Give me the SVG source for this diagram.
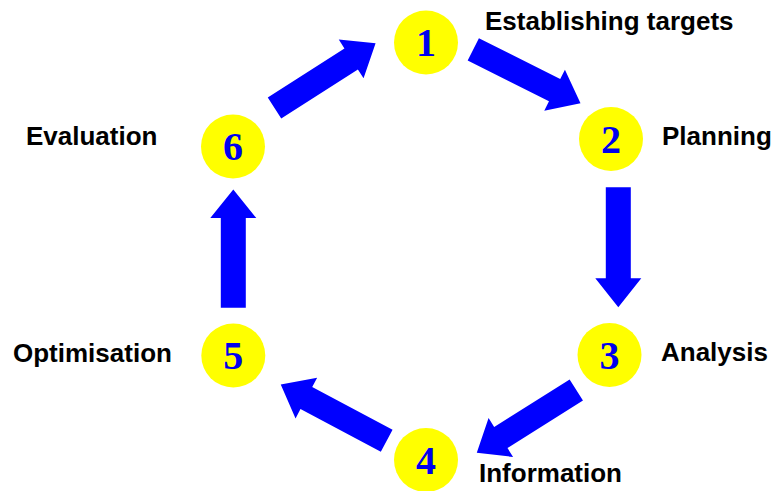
<svg xmlns="http://www.w3.org/2000/svg" width="774" height="491" viewBox="0 0 774 491">
<style>
.c{fill:#ffff00}
.n{font-family:"Liberation Serif","Times New Roman",serif;font-weight:bold;font-size:40px;fill:#0000ee;text-anchor:middle}
.l{font-family:"Liberation Sans",Arial,sans-serif;font-weight:bold;font-size:26px;fill:#000}
.a{fill:#0000ff}
</style>
<defs>
<polygon id="arr" class="a" points="0,-12.5 91,-12.5 91,-23 120,0 91,23 91,12.5 0,12.5"/>
</defs>
<rect width="774" height="491" fill="#fff"/>
<g id="connectors">
<use href="#arr" transform="translate(274.5,108) rotate(-32.6)"/>
<use href="#arr" transform="translate(473.3,49.3) rotate(26.7)"/>
<use href="#arr" transform="translate(618.3,187.3) rotate(90)"/>
<use href="#arr" transform="translate(576.3,390) rotate(147.8) scale(0.98,1)"/>
<use href="#arr" transform="translate(386.7,440.8) rotate(208)"/>
<use href="#arr" transform="translate(233.3,307.7) rotate(-90) scale(0.985,1)"/>
</g>
<g id="node1"><circle class="c" cx="426" cy="42.5" r="32"/><text class="n" x="426" y="56">1</text><text class="l" x="485" y="30">Establishing targets</text></g>
<g id="node2"><circle class="c" cx="611" cy="139" r="32"/><text class="n" x="611" y="153">2</text><text class="l" x="662" y="145">Planning</text></g>
<g id="node3"><circle class="c" cx="609.5" cy="355" r="32"/><text class="n" x="609.5" y="369">3</text><text class="l" x="661" y="361">Analysis</text></g>
<g id="node4"><circle class="c" cx="426" cy="460" r="32"/><text class="n" x="426" y="474">4</text><text class="l" x="479" y="482">Information</text></g>
<g id="node5"><circle class="c" cx="233.3" cy="355.5" r="32"/><text class="n" x="233.3" y="369">5</text><text class="l" x="13" y="362">Optimisation</text></g>
<g id="node6"><circle class="c" cx="233" cy="146.5" r="32"/><text class="n" x="233" y="160">6</text><text class="l" x="26" y="145">Evaluation</text></g>
</svg>
